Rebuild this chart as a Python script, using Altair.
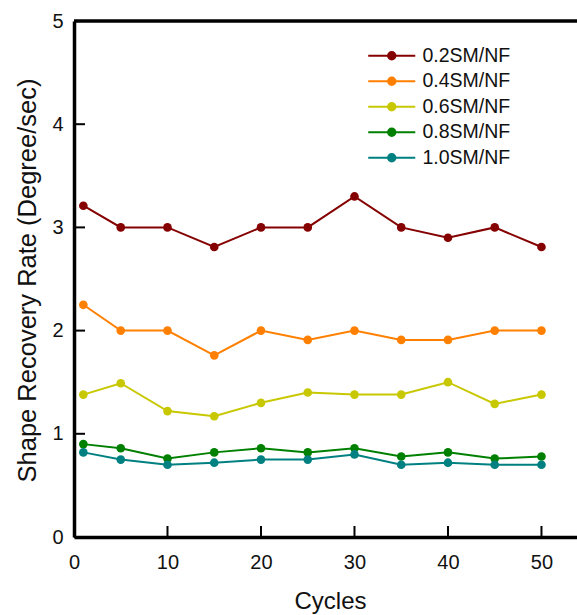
import altair as alt
import pandas as pd

cycles = [1, 5, 10, 15, 20, 25, 30, 35, 40, 45, 50]
s02 = [3.21, 3.00, 3.00, 2.81, 3.00, 3.00, 3.30, 3.00, 2.90, 3.00, 2.81]
s04 = [2.25, 2.00, 2.00, 1.76, 2.00, 1.91, 2.00, 1.91, 1.91, 2.00, 2.00]
s06 = [1.38, 1.49, 1.22, 1.17, 1.30, 1.40, 1.38, 1.38, 1.50, 1.29, 1.38]
s08 = [0.90, 0.86, 0.76, 0.82, 0.86, 0.82, 0.86, 0.78, 0.82, 0.76, 0.78]
s10 = [0.82, 0.75, 0.70, 0.72, 0.75, 0.75, 0.80, 0.70, 0.72, 0.70, 0.70]

series_names = ["0.2SM/NF", "0.4SM/NF", "0.6SM/NF", "0.8SM/NF", "1.0SM/NF"]
series_values = [s02, s04, s06, s08, s10]
colors = ["#850000", "#FF8000", "#C8C800", "#008000", "#008080"]
x_ticks = [0, 10, 20, 30, 40, 50]
y_ticks = [0, 1, 2, 3, 4, 5]

rows = []
for name, vals in zip(series_names, series_values):
    for c, v in zip(cycles, vals):
        rows.append({"Cycles": c, "Rate": v, "Series": name})
df = pd.DataFrame(rows)
xtick_df = pd.DataFrame({"v": x_ticks})
ytick_df = pd.DataFrame({"v": y_ticks})

FONT = "Liberation Sans"
W, H = 503, 516
X_MAX, Y_MAX = 53.8, 5
TICK_LEN = 11
TICK_X_UNITS = TICK_LEN / W * X_MAX   # inward tick length on the y axis
TICK_Y_UNITS = TICK_LEN / H * Y_MAX   # inward tick length on the x axis

legend_path = (
    "M-3.92,0H3.92"
    "M-0.62,0A0.62,0.62,0,1,0,0.62,0A0.62,0.62,0,1,0,-0.62,0Z"
    "M-0.33,0A0.33,0.33,0,1,0,0.33,0A0.33,0.33,0,1,0,-0.33,0Z"
    "M-0.08,0A0.08,0.08,0,1,0,0.08,0A0.08,0.08,0,1,0,-0.08,0Z"
)

xscale = alt.Scale(domain=[0, X_MAX], nice=False, zero=False)
yscale = alt.Scale(domain=[0, Y_MAX], nice=False)
cscale = alt.Scale(domain=series_names, range=colors)

AX = alt.Axis(values=x_ticks, title="Cycles", labelPadding=15,
              format="d", ticks=False,
              titleX=256, titleY=71, titleAlign="center",
              titleBaseline="alphabetic", labelFlush=False)
AY = alt.Axis(values=y_ticks, title="Shape Recovery Rate (Degree/sec)",
              format="d", ticks=False,
              labelPadding=11, titleX=-39, titleY=259, titleAngle=270,
              titleAlign="center", titleBaseline="alphabetic",
              titleFontSize=25.5, labelFlush=False)

lines = alt.Chart(df).mark_line(strokeWidth=2).encode(
    x=alt.X("Cycles:Q", scale=xscale, axis=AX),
    y=alt.Y("Rate:Q", scale=yscale, axis=AY),
    color=alt.Color(
        "Series:N", scale=cscale,
        legend=alt.Legend(
            orient="none", legendX=308, legendY=25, title=None,
            symbolType=legend_path, symbolSize=144, symbolStrokeWidth=2,
            labelFontSize=19.5, labelFont=FONT, labelOffset=21,
            rowPadding=4.5, padding=0, labelColor="#111111",
        ),
    ),
)

points = alt.Chart(df).mark_circle(size=75, opacity=1).encode(
    x=alt.X("Cycles:Q", scale=xscale, axis=AX),
    y=alt.Y("Rate:Q", scale=yscale, axis=AY),
    color=alt.Color("Series:N", scale=cscale, legend=None),
)

# inward tick marks drawn as short line segments through the shared scales
yticks_layer = (
    alt.Chart(ytick_df)
    .transform_calculate(a="0", b=str(TICK_X_UNITS))
    .transform_fold(["a", "b"], as_=["end", "xpos"])
    .mark_line(color="black", strokeWidth=2)
    .encode(
        x=alt.X("xpos:Q", scale=xscale, axis=AX),
        y=alt.Y("v:Q", scale=yscale, axis=AY),
        detail="v:N",
    )
)
xticks_layer = (
    alt.Chart(xtick_df)
    .transform_calculate(a="0", b=str(TICK_Y_UNITS))
    .transform_fold(["a", "b"], as_=["end", "ypos"])
    .mark_line(color="black", strokeWidth=2)
    .encode(
        x=alt.X("v:Q", scale=xscale, axis=AX),
        y=alt.Y("ypos:Q", scale=yscale, axis=AY),
        detail="v:N",
        order="ypos:Q",
    )
)
# top frame line at the highest y tick
top_frame = (
    alt.Chart(ytick_df)
    .transform_filter(alt.datum.v == max(y_ticks))
    .mark_rule(color="black", strokeWidth=3.5)
    .encode(
        y=alt.Y("v:Q", scale=yscale, axis=AY),
        x=alt.value(0),
        x2=alt.value(W),
    )
)

chart = (
    alt.layer(lines, points, yticks_layer, xticks_layer, top_frame)
    .properties(
        width=W, height=H,
        padding={"left": 74, "top": 21, "right": 0, "bottom": 78},
        autosize=alt.AutoSizeParams(type="none"),
        background="white",
    )
    .configure_view(stroke=None)
    .configure_axis(
        grid=False,
        domainColor="black", domainWidth=3.5,
        labelFont=FONT, labelFontSize=20, labelColor="#111111",
        titleFont=FONT, titleFontSize=24, titleFontWeight="normal",
        titleColor="#111111",
    )
)

chart.save("out.html", embed_options={"renderer": "svg", "actions": False})
